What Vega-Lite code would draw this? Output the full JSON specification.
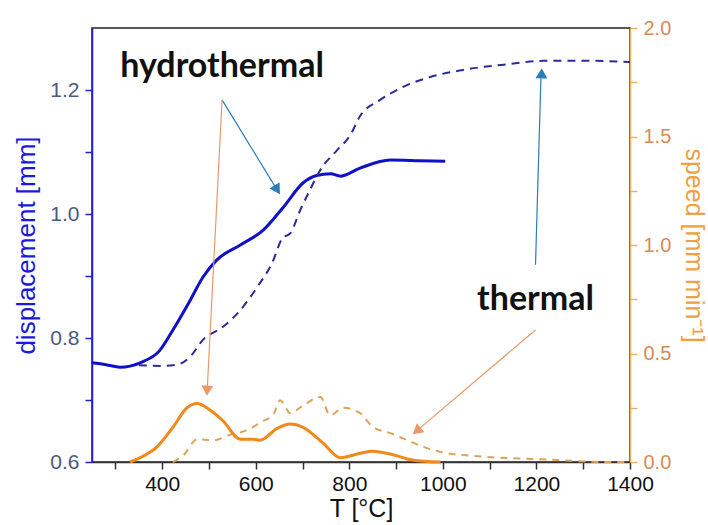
{
  "$schema": "https://vega.github.io/schema/vega-lite/v6.json",
  "width": 538,
  "height": 434,
  "autosize": {"type": "none"},
  "padding": {"left": 92, "top": 28, "right": 78, "bottom": 63},
  "background": "white",
  "config": {
    "font": "Liberation Sans",
    "view": {"stroke": "#222222", "strokeWidth": 1.5}
  },
  "datasets": {
    "dispHydro": [
      {"T": 250, "d": 0.760}, {"T": 280, "d": 0.757}, {"T": 310, "d": 0.753}, {"T": 353, "d": 0.760},
      {"T": 395, "d": 0.780}, {"T": 423, "d": 0.813}, {"T": 460, "d": 0.861}, {"T": 487, "d": 0.898},
      {"T": 517, "d": 0.926}, {"T": 567, "d": 0.950}, {"T": 616, "d": 0.974}, {"T": 659, "d": 1.011},
      {"T": 701, "d": 1.050}, {"T": 730, "d": 1.062}, {"T": 760, "d": 1.065}, {"T": 781, "d": 1.061},
      {"T": 823, "d": 1.074}, {"T": 888, "d": 1.087}, {"T": 950, "d": 1.086}, {"T": 1005, "d": 1.085}
    ],
    "dispThermal": [
      {"T": 350, "d": 0.756}, {"T": 400, "d": 0.755}, {"T": 432, "d": 0.757}, {"T": 460, "d": 0.770},
      {"T": 487, "d": 0.797}, {"T": 530, "d": 0.818}, {"T": 567, "d": 0.845}, {"T": 603, "d": 0.882},
      {"T": 635, "d": 0.921}, {"T": 657, "d": 0.961}, {"T": 674, "d": 0.969}, {"T": 695, "d": 1.006},
      {"T": 716, "d": 1.039}, {"T": 738, "d": 1.071}, {"T": 774, "d": 1.103}, {"T": 802, "d": 1.127},
      {"T": 823, "d": 1.158}, {"T": 866, "d": 1.184}, {"T": 915, "d": 1.205}, {"T": 973, "d": 1.221},
      {"T": 1040, "d": 1.232}, {"T": 1144, "d": 1.242}, {"T": 1215, "d": 1.247}, {"T": 1322, "d": 1.247},
      {"T": 1400, "d": 1.245}
    ],
    "speedHydro": [
      {"T": 331, "s": 0.0}, {"T": 353, "s": 0.02}, {"T": 389, "s": 0.07}, {"T": 423, "s": 0.16},
      {"T": 453, "s": 0.25}, {"T": 475, "s": 0.27}, {"T": 502, "s": 0.24}, {"T": 530, "s": 0.19},
      {"T": 567, "s": 0.105}, {"T": 595, "s": 0.105}, {"T": 609, "s": 0.10}, {"T": 646, "s": 0.155},
      {"T": 674, "s": 0.175}, {"T": 701, "s": 0.16}, {"T": 744, "s": 0.087}, {"T": 781, "s": 0.02},
      {"T": 823, "s": 0.04}, {"T": 850, "s": 0.05}, {"T": 888, "s": 0.037}, {"T": 924, "s": 0.014},
      {"T": 960, "s": 0.003}, {"T": 995, "s": 0.0}
    ],
    "speedThermal": [
      {"T": 423, "s": 0.0}, {"T": 445, "s": 0.03}, {"T": 475, "s": 0.105}, {"T": 509, "s": 0.10},
      {"T": 545, "s": 0.125}, {"T": 582, "s": 0.147}, {"T": 616, "s": 0.19}, {"T": 637, "s": 0.215},
      {"T": 652, "s": 0.285}, {"T": 674, "s": 0.225}, {"T": 701, "s": 0.26}, {"T": 738, "s": 0.30},
      {"T": 759, "s": 0.215}, {"T": 787, "s": 0.25}, {"T": 823, "s": 0.225}, {"T": 851, "s": 0.16},
      {"T": 888, "s": 0.133}, {"T": 924, "s": 0.10}, {"T": 958, "s": 0.07}, {"T": 995, "s": 0.046},
      {"T": 1065, "s": 0.028}, {"T": 1138, "s": 0.018}, {"T": 1209, "s": 0.013}, {"T": 1280, "s": 0.005},
      {"T": 1352, "s": 0.0}, {"T": 1400, "s": 0.0}
    ],
    "labels": [
      {"T": 528, "d": 1.221, "text": "hydrothermal"},
      {"T": 1198, "d": 0.845, "text": "thermal"}
    ],
    "arrows": [
      {"arrow": "a1", "T": 528, "d": 1.184, "T2": 648, "d2": 1.036},
      {"arrow": "a2", "T": 528, "d": 1.184, "T2": 496, "d2": 0.712},
      {"arrow": "a3", "T": 1198, "d": 0.918, "T2": 1210, "d2": 1.230},
      {"arrow": "a4", "T": 1198, "d": 0.813, "T2": 942, "d2": 0.649}
    ],
    "heads": [
      {"arrow": "a1", "T": 646, "d": 1.039},
      {"arrow": "a2", "T": 496, "d": 0.715},
      {"arrow": "a3", "T": 1211, "d": 1.227},
      {"arrow": "a4", "T": 944, "d": 0.650}
    ]
  },
  "layer": [
    {
      "encoding": {
        "x": {
          "field": "T", "type": "quantitative",
          "scale": {"domain": [250, 1400], "nice": false, "zero": false},
          "axis": {
            "values": [300, 400, 500, 600, 700, 800, 900, 1000, 1100, 1200, 1300, 1400],
            "labelExpr": "datum.value % 200 == 0 ? datum.label : ''",
            "format": "d", "grid": false, "labelFlush": false, "labelOverlap": false,
            "title": "T [°C]", "titleFontSize": 25, "titleFontWeight": "normal", "titleColor": "#111111",
            "titlePadding": 2, "labelFontSize": 21, "labelColor": "#111111", "labelPadding": 4,
            "domainColor": "#333333", "domainWidth": 1.5, "tickColor": "#333333", "tickSize": 7, "tickWidth": 1.5
          }
        },
        "y": {
          "field": "d", "type": "quantitative",
          "scale": {"domain": [0.6, 1.3], "nice": false, "zero": false},
          "axis": {
            "values": [0.6, 0.7, 0.8, 0.9, 1.0, 1.1, 1.2],
            "labelExpr": "round(datum.value * 10) % 2 == 0 ? format(datum.value, '.1f') : ''",
            "grid": false, "labelOverlap": false, "labelFlush": false,
            "title": "displacement [mm]", "titleFontSize": 26, "titleFontWeight": "normal", "titleColor": "#1a1adc",
            "titlePadding": 10, "labelFontSize": 21, "labelColor": "#4a5a80", "labelPadding": 6,
            "domainColor": "#2020c8", "domainWidth": 1.5, "tickColor": "#2020c8", "tickSize": 7, "tickWidth": 1.5
          }
        }
      },
      "layer": [
        {
          "data": {"name": "dispHydro"},
          "mark": {"type": "line", "color": "#1010c8", "strokeWidth": 3, "interpolate": "monotone"}
        },
        {
          "data": {"name": "dispThermal"},
          "mark": {"type": "line", "color": "#2b2b9e", "strokeWidth": 2, "strokeDash": [8, 6], "interpolate": "monotone"}
        },
        {
          "data": {"name": "arrows"},
          "mark": {"type": "rule", "strokeWidth": 1.2},
          "encoding": {
            "x2": {"field": "T2"},
            "y2": {"field": "d2"},
            "color": {"field": "arrow", "type": "nominal", "legend": null,
              "scale": {"domain": ["a1", "a2", "a3", "a4"], "range": ["#2a7db5", "#e89a6a", "#2a7db5", "#e89a6a"]}}
          }
        },
        {
          "data": {"name": "heads"},
          "mark": {"type": "point", "shape": "triangle-up", "filled": true, "opacity": 1, "size": 140},
          "encoding": {
            "color": {"field": "arrow", "type": "nominal", "legend": null,
              "scale": {"domain": ["a1", "a2", "a3", "a4"], "range": ["#2a7db5", "#e8782a", "#2a7db5", "#e8782a"]}},
            "angle": {"field": "arrow", "type": "nominal", "legend": null,
              "scale": {"type": "ordinal", "domain": ["a1", "a2", "a3", "a4"], "range": [148, 183, 2, 230]}}
          }
        },
        {
          "data": {"name": "labels"},
          "mark": {"type": "text", "font": "Lato", "fontWeight": "bold", "fontSize": 34, "color": "#111111", "align": "center", "baseline": "alphabetic"},
          "encoding": {"text": {"field": "text"}}
        }
      ]
    },
    {
      "encoding": {
        "x": {
          "field": "T", "type": "quantitative",
          "scale": {"domain": [250, 1400], "nice": false, "zero": false},
          "axis": {
            "values": [300, 400, 500, 600, 700, 800, 900, 1000, 1100, 1200, 1300, 1400],
            "labelExpr": "datum.value % 200 == 0 ? datum.label : ''",
            "format": "d", "grid": false, "labelFlush": false, "labelOverlap": false,
            "title": "T [°C]", "titleFontSize": 25, "titleFontWeight": "normal", "titleColor": "#111111",
            "titlePadding": 2, "labelFontSize": 21, "labelColor": "#111111", "labelPadding": 4,
            "domainColor": "#333333", "domainWidth": 1.5, "tickColor": "#333333", "tickSize": 7, "tickWidth": 1.5
          }
        },
        "y": {
          "field": "s", "type": "quantitative",
          "scale": {"domain": [0, 2], "nice": false, "zero": false},
          "axis": {
            "orient": "right",
            "values": [0, 0.25, 0.5, 0.75, 1.0, 1.25, 1.5, 1.75, 2.0],
            "labelExpr": "round(datum.value * 4) % 2 == 0 ? format(datum.value, '.1f') : ''",
            "grid": false, "labelOverlap": false, "labelFlush": false,
            "title": "speed [mm min⁻¹]", "titleFontSize": 25, "titleFontWeight": "normal", "titleColor": "#f0a040",
            "titlePadding": 10, "labelFontSize": 20, "labelColor": "#d98a55", "labelPadding": 6,
            "domainColor": "#f0b060", "domainWidth": 1.5, "tickColor": "#f0b060", "tickSize": 7, "tickWidth": 1.5
          }
        }
      },
      "layer": [
        {
          "data": {"name": "speedThermal"},
          "mark": {"type": "line", "color": "#dea258", "strokeWidth": 2, "strokeDash": [7, 6], "interpolate": "monotone"}
        },
        {
          "data": {"name": "speedHydro"},
          "mark": {"type": "line", "color": "#f08a1c", "strokeWidth": 3, "interpolate": "monotone"}
        }
      ]
    }
  ],
  "resolve": {"scale": {"y": "independent"}, "axis": {"y": "independent"}}
}
